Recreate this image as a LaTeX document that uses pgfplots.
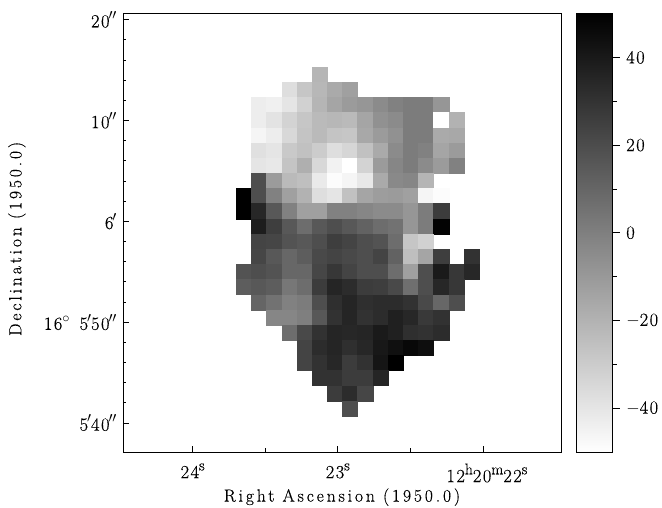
\documentclass[border=0pt]{standalone}
\usepackage{fontspec}
\usepackage{pgfplots}
\pgfplotsset{compat=1.18}
\newfontfamily\labfont[LetterSpace=16.5, FakeBold=0.4]{Latin Modern Roman}
\newfontfamily\tickfont[LetterSpace=8, FakeBold=0.4]{Latin Modern Roman}
\newcommand{\lab}{\fontsize{17.5}{18}\selectfont\labfont}
\newcommand{\tck}{\fontsize{18.5}{19}\selectfont\tickfont}
\newcommand{\sups}[1]{\raisebox{0.42em}{\fontsize{14}{14}\selectfont #1}}
\newcommand{\xsup}[1]{\raisebox{0.42em}{\fontsize{15.5}{16}\selectfont #1}}
\newcommand{\amin}{\kern-1pt\sups{$\prime$}}
\newcommand{\asec}{\kern-1pt\sups{$\prime\prime$}}
\begin{document}
\begin{tikzpicture}
	% page is 662x508, 1px = 1pt, axis origin at (123,452) of the image
	\path[use as bounding box] (-123pt,-56pt) rectangle (539pt,452pt);
	\begin{axis}[
		scale only axis,
		width=438.3pt, height=438.5pt,
		x dir=reverse,
		xmin=21.46, xmax=24.48,
		ymin=-22.88, ymax=20.6,
		axis line style={line width=0.8pt},
		tick style={black, line width=0.7pt},
		tick align=inside,
		major tick length=6pt,
		minor tick length=3.5pt,
		xtick pos=bottom, ytick pos=left,
		xtick={22,23,24},
		xticklabels={\hspace*{8pt}12\xsup{h}20\xsup{m}22\xsup{s}, 23\xsup{s}, 24\xsup{s}},
		minor x tick num=1,
		ytick={-20,-10,0,10,20},
		yticklabels={5\amin40\asec, 16\sups{$\circ$}\hspace{3pt} 5\amin50\asec, 6\amin, 10\asec, 20\asec},
		minor y tick num=4,
		xticklabel style={font=\tck, yshift=-8pt},
		yticklabel style={font=\tck, xshift=-3pt},
		every axis x label/.style={at={(axis description cs:0.4997,-0.103)},anchor=center},
		every axis y label/.style={at={(axis description cs:-0.242,0.486)},rotate=90,anchor=center},
		xlabel={\lab Right Ascension (1950.0)},
		ylabel={\lab Declination (1950.0)},
		colormap={bw}{gray(0cm)=(1); gray(1cm)=(0)},
		point meta min=-50, point meta max=50,
		colorbar,
		colorbar/width=36.7pt,
		colorbar style={
			at={(parent axis.south east)}, anchor=south west,
			xshift=6.2pt,
			scale only axis,
			height=438.5pt,
			ytick={-40,-20,0,20,40},
			yticklabels={$-$40,$-$20,0,20,40},
			minor y tick num=1,
			ytick pos=right,
			tick align=outside,
			yticklabel pos=right,
			major tick length=7pt,
			minor tick length=4pt,
			tick style={black, line width=0.7pt},
			yticklabel style={font=\tck, xshift=3pt},
			axis line style={line width=0.8pt},
		},
		]
		\addplot[scatter, only marks, scatter src=explicit,
			mark=square*, mark size=7.55pt,
			scatter/use mapped color={draw=mapped color, fill=mapped color, line width=0.15pt}]
		table[row sep=\\, x=x, y=y, meta=v] {
			x y v\\
			23.126 14.555 -21\\
			23.335 13.05 -37\\ 23.230 13.05 -28\\ 23.126 13.05 -22\\ 23.021 13.05 -17\\ 22.916 13.05 -13\\
			23.544 11.545 -43\\ 23.440 11.545 -44\\ 23.335 11.545 -40\\ 23.230 11.545 -32\\ 23.126 11.545 -21\\ 23.021 11.545 -15\\ 22.916 11.545 -11\\ 22.812 11.545 -9\\ 22.707 11.545 -5\\ 22.602 11.545 -1\\ 22.498 11.545 1\\ 22.393 11.545 1\\ 22.288 11.545 -9\\
			23.544 10.04 -43\\ 23.440 10.04 -39\\ 23.335 10.04 -33\\ 23.230 10.04 -28\\ 23.126 10.04 -23\\ 23.021 10.04 -22\\ 22.916 10.04 -23\\ 22.812 10.04 -15\\ 22.707 10.04 -7\\ 22.602 10.04 -5\\ 22.498 10.04 1\\ 22.393 10.04 1\\ 22.288 10.04 -50\\ 22.184 10.04 -20\\
			23.544 8.535 -46\\ 23.440 8.535 -43\\ 23.335 8.535 -35\\ 23.230 8.535 -27\\ 23.126 8.535 -23\\ 23.021 8.535 -27\\ 22.916 8.535 -28\\ 22.812 8.535 -16\\ 22.707 8.535 -11\\ 22.602 8.535 -7\\ 22.498 8.535 1\\ 22.393 8.535 1\\ 22.288 8.535 -17\\ 22.184 8.535 -16\\
			23.544 7.03 -38\\ 23.440 7.03 -40\\ 23.335 7.03 -29\\ 23.230 7.03 -26\\ 23.126 7.03 -30\\ 23.021 7.03 -37\\ 22.916 7.03 -34\\ 22.812 7.03 -26\\ 22.707 7.03 -17\\ 22.602 7.03 -5\\ 22.498 7.03 1\\ 22.393 7.03 -1\\ 22.288 7.03 -15\\ 22.184 7.03 -11\\
			23.544 5.525 -40\\ 23.440 5.525 -41\\ 23.335 5.525 -27\\ 23.230 5.525 -19\\ 23.126 5.525 -35\\ 23.021 5.525 -45\\ 22.916 5.525 -50\\ 22.812 5.525 -33\\ 22.707 5.525 -11\\ 22.602 5.525 -3\\ 22.498 5.525 1\\ 22.393 5.525 -5\\ 22.288 5.525 -11\\ 22.184 5.525 -1\\
			23.544 4.02 19\\ 23.440 4.02 -11\\ 23.335 4.02 -23\\ 23.230 4.02 -25\\ 23.126 4.02 -42\\ 23.021 4.02 -49\\ 22.916 4.02 -46\\ 22.812 4.02 -41\\ 22.707 4.02 -17\\ 22.602 4.02 -4\\ 22.498 4.02 -3\\ 22.393 4.02 -21\\
			23.649 2.515 50\\ 23.544 2.515 19\\ 23.440 2.515 -1\\ 23.335 2.515 -13\\ 23.230 2.515 -20\\ 23.126 2.515 -37\\ 23.021 2.515 -40\\ 22.916 2.515 -26\\ 22.812 2.515 -15\\ 22.707 2.515 -12\\ 22.602 2.515 -11\\ 22.498 2.515 -13\\ 22.393 2.515 -46\\ 22.288 2.515 -49\\
			23.649 1.01 50\\ 23.544 1.01 34\\ 23.440 1.01 15\\ 23.335 1.01 -1\\ 23.230 1.01 -13\\ 23.126 1.01 -13\\ 23.021 1.01 -1\\ 22.916 1.01 -1\\ 22.812 1.01 -3\\ 22.707 1.01 -5\\ 22.602 1.01 -5\\ 22.498 1.01 -9\\ 22.393 1.01 1\\ 22.288 1.01 26\\
			23.544 -0.495 38\\ 23.440 -0.495 25\\ 23.335 -0.495 15\\ 23.230 -0.495 7\\ 23.126 -0.495 15\\ 23.021 -0.495 19\\ 22.916 -0.495 15\\ 22.812 -0.495 11\\ 22.707 -0.495 7\\ 22.602 -0.495 5\\ 22.498 -0.495 -9\\ 22.393 -0.495 1\\ 22.288 -0.495 48\\
			23.544 -2.0 23\\ 23.440 -2.0 22\\ 23.335 -2.0 17\\ 23.230 -2.0 15\\ 23.126 -2.0 19\\ 23.021 -2.0 25\\ 22.916 -2.0 23\\ 22.812 -2.0 19\\ 22.707 -2.0 17\\ 22.602 -2.0 7\\ 22.498 -2.0 -28\\ 22.393 -2.0 -32\\
			23.544 -3.505 22\\ 23.440 -3.505 15\\ 23.335 -3.505 9\\ 23.230 -3.505 13\\ 23.126 -3.505 21\\ 23.021 -3.505 23\\ 22.916 -3.505 21\\ 22.812 -3.505 19\\ 22.707 -3.505 23\\ 22.602 -3.505 11\\ 22.498 -3.505 -25\\ 22.393 -3.505 -15\\ 22.288 -3.505 25\\ 22.079 -3.505 30\\
			23.649 -5.01 17\\ 23.544 -5.01 19\\ 23.440 -5.01 17\\ 23.335 -5.01 9\\ 23.230 -5.01 9\\ 23.126 -5.01 22\\ 23.021 -5.01 28\\ 22.916 -5.01 23\\ 22.812 -5.01 19\\ 22.707 -5.01 19\\ 22.602 -5.01 7\\ 22.498 -5.01 -13\\ 22.393 -5.01 19\\ 22.288 -5.01 39\\ 22.184 -5.01 28\\ 22.079 -5.01 34\\
			23.649 -6.515 13\\ 23.544 -6.515 15\\ 23.440 -6.515 13\\ 23.335 -6.515 3\\ 23.230 -6.515 7\\ 23.126 -6.515 26\\ 23.021 -6.515 35\\ 22.916 -6.515 32\\ 22.812 -6.515 26\\ 22.707 -6.515 25\\ 22.602 -6.515 21\\ 22.498 -6.515 6\\ 22.393 -6.515 19\\ 22.288 -6.515 34\\ 22.184 -6.515 28\\
			23.544 -8.02 10\\ 23.440 -8.02 5\\ 23.335 -8.02 -1\\ 23.230 -8.02 1\\ 23.126 -8.02 19\\ 23.021 -8.02 31\\ 22.916 -8.02 35\\ 22.812 -8.02 31\\ 22.707 -8.02 32\\ 22.602 -8.02 32\\ 22.498 -8.02 30\\ 22.393 -8.02 21\\ 22.288 -8.02 9\\ 22.184 -8.02 19\\
			23.440 -9.525 -3\\ 23.335 -9.525 -3\\ 23.230 -9.525 0\\ 23.126 -9.525 15\\ 23.021 -9.525 30\\ 22.916 -9.525 35\\ 22.812 -9.525 30\\ 22.707 -9.525 32\\ 22.602 -9.525 37\\ 22.498 -9.525 34\\ 22.393 -9.525 27\\ 22.288 -9.525 30\\
			23.335 -11.03 7\\ 23.230 -11.03 21\\ 23.126 -11.03 30\\ 23.021 -11.03 35\\ 22.916 -11.03 34\\ 22.812 -11.03 35\\ 22.707 -11.03 39\\ 22.602 -11.03 37\\ 22.498 -11.03 31\\ 22.393 -11.03 30\\ 22.288 -11.03 32\\
			23.230 -12.535 23\\ 23.126 -12.535 32\\ 23.021 -12.535 35\\ 22.916 -12.535 31\\ 22.812 -12.535 34\\ 22.707 -12.535 40\\ 22.602 -12.535 43\\ 22.498 -12.535 46\\ 22.393 -12.535 44\\
			23.230 -14.04 23\\ 23.126 -14.04 30\\ 23.021 -14.04 34\\ 22.916 -14.04 26\\ 22.812 -14.04 30\\ 22.707 -14.04 41\\ 22.602 -14.04 50\\
			23.126 -15.545 30\\ 23.021 -15.545 30\\ 22.916 -15.545 26\\ 22.812 -15.545 26\\ 22.707 -15.545 35\\
			23.021 -17.05 26\\ 22.916 -17.05 32\\ 22.812 -17.05 22\\
			22.916 -18.555 19\\
		};
	\end{axis}
\end{tikzpicture}
\end{document}
